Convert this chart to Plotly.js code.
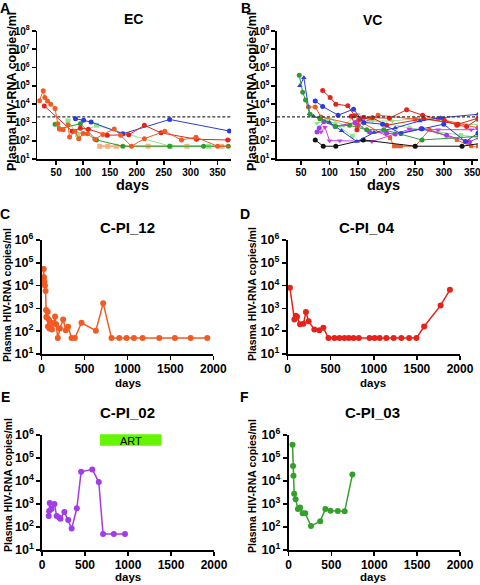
<!DOCTYPE html>
<html><head><meta charset="utf-8">
<script src="https://cdn.plot.ly/plotly-3.0.1.min.js"></script>
<style>html,body{margin:0;padding:0;background:#fff}#chart{width:480px;height:585px}</style>
</head><body><div id="chart"></div>
<script>
// ---------- DATA ----------
const threshold = 2000;
const artStart = 675, artEnd = 1390;

// Individual patients (full follow-up)
const cpi12Days = [19,26,29,34,40,48,53,57,63,72,75,85,92,100,108,122,137,158,170,190,214,252,283,310,350,388,466,633,718,815,905,990,1076,1177,1371,1553,1736,1930];
const cpi12VL   = [15500,54000,23000,15000,10000,5800,850,420,400,720,160,330,130,250,240,120,220,440,200,50,130,330,110,155,50,50,235,105,1700,50,50,50,50,50,50,50,50,50];

const cpi04Days = [28,80,95,110,145,185,214,245,311,369,416,475,544,602,660,711,765,827,951,1010,1068,1146,1231,1320,1410,1495,1584,1775,1883];
const cpi04VL   = [8000,330,480,430,200,210,700,270,120,110,140,50,50,50,50,50,50,50,50,50,50,50,50,50,50,50,160,1350,6500];

const cpi02Days = [78,82,90,110,145,170,200,215,260,305,345,405,455,585,660,710,835,965];
const cpi02VL   = [300,500,1100,600,1000,300,260,230,450,200,85,650,25000,32000,9000,50,50,50];

const cpi03Days = [47,53,58,66,83,110,135,165,195,262,370,430,490,575,655,745];
const cpi03VL   = [380000,45000,17000,2800,1600,600,700,400,400,110,180,600,510,500,480,19000];

// Other elite controllers (panel A)
const ecBlueDays = [86,101,115,174,261,372];
const ecBlueVL   = [1600,1300,1050,240,1450,340];
const ecGreenDays = [48,56,95,125,174,261,324,370];
const ecGreenVL   = [800,450,850,110,50,50,50,50];
const ecLtGreenDays = [72,90,125,262,333];
const ecLtGreenVL   = [1200,220,700,50,50];
const ecPeachDays = [131,146,162,221,293,358];
const ecPeachVL   = [50,50,50,50,50,50];

// Other viremic controllers (panel B)
const vcBlueTriDays = [48,55,65,72,100,121,148,178,215,258,295,360];
const vcBlueTriVL   = [100000,280000,3000,2200,1000,350,90,280,500,1200,1800,2800];
const vcBlueDays = [75,88,115,142,160,193,225,262,300,338,360];
const vcBlueVL   = [15000,7400,2500,5300,1000,800,250,450,800,90,260];
const vcRedDays = [88,101,111,132,144,160,205,235,263,301,323,340,360];
const vcRedVL   = [55000,23000,10000,8200,2300,1900,1700,4900,2500,1300,700,600,1500];
const vcRed2Days = [138,148,153,175,200,265,325,360];
const vcRed2VL   = [2200,400,1500,1800,700,1600,800,1700];
const vcOrangeDays = [63,75,85,150,185,250,290,360];
const vcOrangeVL   = [7000,7000,2000,700,2500,1500,1600,500];
const vcOrangeSqDays = [150,206,213,219,225,250,275,323,348,360];
const vcOrangeSqVL   = [1300,140,50,50,50,50,400,110,50,50];
const vcMagentaDays = [85,92,100,118,174,240,290,348,360];
const vcMagentaVL   = [300,550,100,100,90,420,400,400,450];
const vcBlackDays = [75,89,111,159,250,332,375];
const vcBlackVL   = [110,50,50,110,50,50,80];
const vcLtGreenDays = [78,100,125,150,175,210,250,300,360];
const vcLtGreenVL   = [900,1600,700,2800,1200,1200,1600,1200,700];
const vcLtGreen2Days = [95,110,140,170,240,290,330,360];
const vcLtGreen2VL   = [1500,800,180,1400,500,300,200,150];

const shortTicks = [50,100,150,200,250,300,350];
const longTicks = [0,500,1000,1500,2000];
const decadesAB = [1,2,3,4,5,6,7,8];
const decadesCF = [1,2,3,4,5,6];

// ---------- STYLE ----------
const C = {
  orange:'#F15A22', red:'#E5231B', blue:'#2A3BE0', green:'#2F9A33',
  ltgreen:'#8CE88C', peach:'#F4B183', purple:'#A23BE8', magenta:'#C83CF0',
  black:'#111111', fgreen:'#33A02C'
};
const FONT = 'Liberation Sans, Arial, sans-serif';

function tr(x, y, color, ax, sym, msize, lw) {
  return {
    type:'scatter', mode:'lines+markers', x:x, y:y,
    xaxis:'x'+ax, yaxis:'y'+ax,
    line:{color:color, width:lw},
    marker:{color:color, size:msize, symbol:sym},
    showlegend:false, hoverinfo:'skip'
  };
}

const traces = [
  // Panel A (EC)
  tr(ecPeachDays, ecPeachVL, C.peach, '', 'square', 5, 2),
  tr(ecLtGreenDays, ecLtGreenVL, C.ltgreen, '', 'square', 5, 1),
  tr(ecGreenDays, ecGreenVL, C.green, '', 'circle', 5, 1),
  tr(ecBlueDays, ecBlueVL, C.blue, '', 'circle', 5, 1),
  tr(cpi04Days, cpi04VL, C.red, '', 'circle', 5, 1),
  tr(cpi12Days, cpi12VL, C.orange, '', 'circle', 5, 1),
  // Panel B (VC)
  tr(vcLtGreenDays, vcLtGreenVL, C.ltgreen, '2', 'triangle-down', 5, 1),
  tr(vcLtGreen2Days, vcLtGreen2VL, C.ltgreen, '2', 'circle', 5, 1),
  tr(vcOrangeSqDays, vcOrangeSqVL, C.orange, '2', 'square', 4, 1),
  tr(vcOrangeDays, vcOrangeVL, C.orange, '2', 'circle', 5, 1),
  tr(vcRed2Days, vcRed2VL, C.red, '2', 'circle', 5, 1),
  tr(vcRedDays, vcRedVL, C.red, '2', 'circle', 5, 1),
  tr(vcMagentaDays, vcMagentaVL, C.magenta, '2', 'triangle-down', 5, 1),
  tr(cpi02Days, cpi02VL, C.purple, '2', 'circle', 5, 1),
  tr(vcBlackDays, vcBlackVL, C.black, '2', 'circle', 5, 1),
  tr(vcBlueDays, vcBlueVL, C.blue, '2', 'circle', 5, 1),
  tr(vcBlueTriDays, vcBlueTriVL, C.blue, '2', 'triangle-up', 5, 1),
  tr(cpi03Days, cpi03VL, C.green, '2', 'circle', 5, 1),
  // Panels C-F
  tr(cpi12Days, cpi12VL, C.orange, '3', 'circle', 6, 1.5),
  tr(cpi04Days, cpi04VL, C.red, '4', 'circle', 6, 1.5),
  tr(cpi02Days, cpi02VL, C.purple, '5', 'circle', 6, 1.5),
  tr(cpi03Days, cpi03VL, C.fgreen, '6', 'circle', 6, 1.5)
];

// ---------- LAYOUT ----------
const W = 480, H = 585;
const dx = (a,b) => [a/W, b/W];
const dy = (top,bottom) => [1-bottom/H, 1-top/H];
const px = v => v/W, py = v => 1 - v/H;

function xa(dom, range, ticks, anchor, fs) {
  return {domain:dom, range:range, anchor:anchor, tickvals:ticks, ticklabeloverflow:'allow',
    ticklabelstandoff:-1,
    showline:true, linecolor:'#000', linewidth:1.6, ticks:'outside', ticklen:4, tickwidth:1.6,
    tickcolor:'#000', showgrid:false, zeroline:false,
    tickfont:{family:FONT, size:fs, color:'#000', weight:700}};
}
function ya(dom, decs, anchor, fs) {
  return {domain:dom, type:'log', range:[decs[0], decs[decs.length-1]], anchor:anchor,
    tickvals:decs.map(d => Math.pow(10,d)), ticktext:decs.map(d => '10<sup>'+d+'</sup>'),
    ticklabeloverflow:'allow',
    showline:true, linecolor:'#000', linewidth:1.6, ticks:'outside', ticklen:4, tickwidth:1.6,
    tickcolor:'#000', showgrid:false, zeroline:false,
    tickfont:{family:FONT, size:fs, color:'#000', weight:700}};
}

function ann(text, x, y, size, angle, yanchor) {
  return {text:text, x:px(x), y:py(y), xref:'paper', yref:'paper', showarrow:false,
    xanchor:'center', yanchor:yanchor||'middle', textangle:angle||0,
    font:{family:FONT, size:size, color:'#000', weight:700}};
}
const ytitle = 'Plasma HIV-RNA copies/ml';

const layout = {
  width:W, height:H, margin:{l:0,r:0,t:0,b:0},
  paper_bgcolor:'#fff', plot_bgcolor:'#fff', showlegend:false,
  xaxis: xa(dx(37.3,231), [15,375], shortTicks, 'y', 10),
  yaxis: ya(dy(31,159), decadesAB, 'x', 10),
  xaxis2: xa(dx(277,478), [8,360], shortTicks, 'y2', 10),
  yaxis2: ya(dy(31,159), decadesAB, 'x2', 10),
  xaxis3: xa(dx(41.5,213.3), [0,2000], longTicks, 'y3', 12),
  yaxis3: ya(dy(240,354), decadesCF, 'x3', 12.5),
  xaxis4: xa(dx(287.5,460), [0,2000], longTicks, 'y4', 12),
  yaxis4: ya(dy(240,354), decadesCF, 'x4', 12.5),
  xaxis5: xa(dx(42,214), [0,2000], longTicks, 'y5', 12),
  yaxis5: ya(dy(435,550), decadesCF, 'x5', 12.5),
  xaxis6: xa(dx(288.5,460), [0,2000], longTicks, 'y6', 12),
  yaxis6: ya(dy(435,550), decadesCF, 'x6', 12.5),
  shapes:[
    {type:'line', xref:'x domain', yref:'y', x0:0, x1:1, y0:threshold, y1:threshold,
     line:{color:'#333', width:1.2, dash:'3px,2px'}},
    {type:'line', xref:'x2 domain', yref:'y2', x0:0, x1:1, y0:threshold, y1:threshold,
     line:{color:'#333', width:1.2, dash:'3px,2px'}},
    {type:'rect', xref:'x5', yref:'paper', x0:artStart, x1:artEnd, y0:py(445.7), y1:py(434.3),
     fillcolor:'#66F500', line:{width:0}, layer:'above',
     label:{text:'ART', font:{family:FONT, size:11, color:'#000'}, textposition:'middle center'}}
  ],
  annotations:[
    ann('A', 5, -2, 14, 0, 'top'), ann('B', 246, -2, 14, 0, 'top'), ann('C', 5, 204, 14, 0, 'top'),
    ann('D', 245, 204, 14, 0, 'top'), ann('E', 5, 387, 14, 0, 'top'), ann('F', 245, 387, 14, 0, 'top'),
    ann('EC', 133, 19, 14), ann('VC', 372, 20, 14),
    ann('C-PI_12', 127, 228, 15), ann('C-PI_04', 367, 228, 15),
    ann('C-PI_02', 127, 412, 15), ann('C-PI_03', 372, 412, 15),
    ann('days', 132, 185, 14.5), ann('days', 383, 185, 14.5),
    ann('days', 128, 383, 11.5), ann('days', 373, 383, 11.5),
    ann('days', 128, 577, 11.5), ann('days', 373, 577, 11.5),
    ann(ytitle, 12, 92, 12.5, -90), ann(ytitle, 252, 92, 12.5, -90),
    ann(ytitle, 7, 295, 10.5, -90), ann(ytitle, 252, 294, 10.5, -90),
    ann(ytitle, 8, 485, 10.5, -90), ann(ytitle, 252, 486, 10.5, -90)
  ]
};

Plotly.newPlot('chart', traces, layout, {staticPlot:true, displayModeBar:false});
</script>
</body></html>
